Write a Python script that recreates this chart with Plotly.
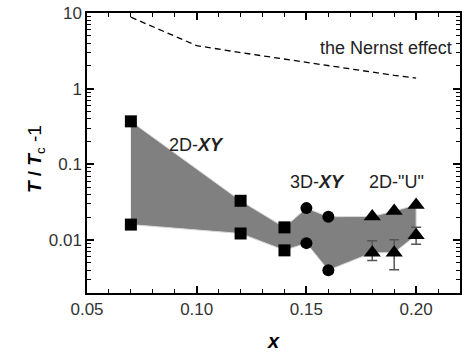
import plotly.graph_objects as go

# Composition x for each regime
x_2dxy = [0.07, 0.12, 0.14]
x_3dxy = [0.15, 0.16]
x_2du = [0.18, 0.19, 0.20]

# Upper / lower bounds of the fluctuation region, T/Tc - 1
sq_upper = [0.37, 0.033, 0.0147]
sq_lower = [0.016, 0.0122, 0.0073]
ci_upper = [0.0264, 0.0203]
ci_lower = [0.0091, 0.0040]
tr_upper = [0.0205, 0.0242, 0.0291]
tr_lower = [0.0068, 0.0068, 0.0116]
tr_lower_hi = [0.0098, 0.0101, 0.0147]
tr_lower_lo = [0.00535, 0.00405, 0.0088]

# Onset from the Nernst effect
x_nernst = [0.07, 0.10, 0.12, 0.14, 0.15, 0.16, 0.18, 0.19, 0.20]
y_nernst = [8.8, 3.7, 3.0, 2.45, 2.2, 2.0, 1.65, 1.5, 1.38]

FONT = "Arial, Liberation Sans, sans-serif"

fig = go.Figure()

# Shaded band between upper and lower bounds
x_all = x_2dxy + x_3dxy + x_2du
up_all = sq_upper + ci_upper + tr_upper
lo_all = sq_lower + ci_lower + tr_lower
fig.add_trace(go.Scatter(
    x=x_all + x_all[::-1], y=up_all + lo_all[::-1],
    mode="lines", fill="toself", fillcolor="#808080",
    line=dict(color="#d8d8d8", width=1), hoverinfo="skip", showlegend=False))

fig.add_trace(go.Scatter(
    x=x_nernst, y=y_nernst, mode="lines",
    line=dict(color="black", width=1.3, dash="6px,4px"), showlegend=False))

mk = dict(color="black", size=12)
fig.add_trace(go.Scatter(x=x_2dxy + x_2dxy, y=sq_upper + sq_lower, mode="markers",
                         marker=dict(symbol="square", **mk), showlegend=False))
fig.add_trace(go.Scatter(x=x_3dxy + x_3dxy, y=ci_upper + ci_lower, mode="markers",
                         marker=dict(symbol="circle", **mk), showlegend=False))
fig.add_trace(go.Scatter(x=x_2du, y=tr_upper, mode="markers",
                         marker=dict(symbol="triangle-up", color="black", size=15),
                         showlegend=False))
fig.add_trace(go.Scatter(
    x=x_2du, y=tr_lower, mode="markers",
    marker=dict(symbol="triangle-up", color="black", size=15),
    error_y=dict(type="data", symmetric=False,
                 array=[h - v for h, v in zip(tr_lower_hi, tr_lower)],
                 arrayminus=[v - l for l, v in zip(tr_lower_lo, tr_lower)],
                 color="#555555", thickness=1.5, width=5),
    showlegend=False))

ann_font = dict(family=FONT, size=18, color="#222222")
labels = [
    (0.100, -0.739, "2D-<b><i>XY</i></b>"),
    (0.155, -1.234, "3D-<b><i>XY</i></b>"),
    (0.1909, -1.234, "2D-\"U\""),
    (0.1864, 0.532, "the Nernst effect"),
]
for lx, ly, txt in labels:
    fig.add_annotation(x=lx, y=ly, text=txt, showarrow=False, font=ann_font,
                       xanchor="center", yanchor="middle")

# Y-axis title, placed a little below the vertical centre of the plot
fig.add_annotation(xref="paper", yref="paper", x=-0.135, y=0.477,
                   text="<b><i>T</i> / <i>T</i></b><sub>c</sub> -1", textangle=-90,
                   showarrow=False, xanchor="center", yanchor="middle",
                   font=dict(family=FONT, size=19, color="black"))

axis_common = dict(showline=True, linecolor="black", linewidth=1.5, mirror="allticks",
                   ticks="inside", tickcolor="black", tickwidth=1.5, ticklen=7,
                   showgrid=False, zeroline=False,
                   tickfont=dict(family=FONT, size=17, color="#333333"))

fig.update_xaxes(range=[0.05, 0.22], tick0=0.05, dtick=0.05, tickformat=".2f",
                 minor=dict(ticks="inside", dtick=0.01, ticklen=4, tickcolor="black",
                            tickwidth=1.2, showgrid=False),
                 title=dict(text="<b><i>x</i></b>", font=dict(family=FONT, size=20, color="black"),
                            standoff=16),
                 **axis_common)
fig.update_yaxes(type="log", range=[-2.7, 1],
                 tickvals=[0.01, 0.1, 1, 10], ticktext=["0.01", "0.1", "1", "10"],
                 minor=dict(ticks="inside", dtick="D1", ticklen=4, tickcolor="black",
                            tickwidth=1.2, showgrid=False),
                 **axis_common)

fig.update_layout(width=466, height=360, margin=dict(l=87, r=4, t=12, b=67),
                  plot_bgcolor="white", paper_bgcolor="white")

fig.write_html("out.html")
